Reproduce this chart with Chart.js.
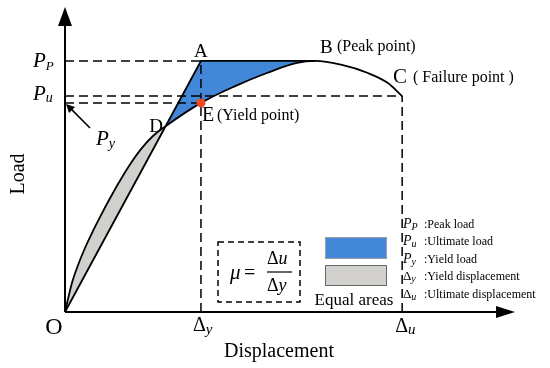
<!DOCTYPE html>
<html><head><meta charset="utf-8">
<script src="https://cdn.jsdelivr.net/npm/chart.js@4.4.0/dist/chart.umd.min.js"></script>
<style>html,body{margin:0;padding:0;background:#fff;}canvas{display:block;}</style>
</head><body><canvas id="c" width="550" height="368"></canvas>
<script>
// Load-displacement curve (schematic units: displacement, load)
const curveDisp = [0, 0.51, 0.96, 1.47, 2.06, 2.65, 3.24, 3.90, 4.71, 5.59, 6.47, 7.4, 10, 12.35, 14.85, 17.06, 18.4, 20.37, 22.28, 23.75, 24.8];
const curveLoad = [0, 11.55, 18.7, 25.5, 32.3, 38.6, 44.6, 51.0, 58.2, 64.9, 70.1, 74, 83.3, 89.6, 95.2, 99.2, 100, 98.4, 95.2, 91.2, 86];
const idxD = 11, idxE = 12, idxB = 16, idxC = 20;
const deltaY = 10, deltaU = 24.8;
const loadPeak = 100, loadUlt = 86, loadYield = 83.3;
const dispMax = 33.1, loadMax = 121.5;
const legendSymbols = ['P', 'P', 'P', 'Δ', 'Δ'];
const legendSubs = ['P', 'u', 'y', 'y', 'u'];
const legendTexts = [':Peak load', ':Ultimate load', ':Yield load', ':Yield displacement', ':Ultimate displacement'];

const BLUE = '#4287d8', GRAY = '#d2d0cc';
const SERIF = '"Liberation Serif", "Times New Roman", serif';

const pts = (xs, ys) => xs.map((x, i) => ({x, y: ys[i]}));
const curve = pts(curveDisp, curveLoad);
const secant = [{x: 0, y: 0}, {x: deltaY, y: loadPeak}, {x: curveDisp[idxB], y: loadPeak}];
const dashed = (data) => ({data, borderColor: '#000', borderWidth: 1.5, borderDash: [9, 5], pointRadius: 0, fill: false, tension: 0, order: 3});

const datasets = [
  {data: curve, borderColor: '#000', borderWidth: 1.8, pointRadius: 0, fill: false, cubicInterpolationMode: 'monotone', order: 0},
  {data: secant, borderColor: '#000', borderWidth: 1.8, pointRadius: 0, fill: false, tension: 0, order: 1},
  {data: pts(curveDisp.slice(0, idxB + 1), curveLoad.slice(0, idxB + 1)), borderColor: 'rgba(0,0,0,0)', borderWidth: 0, pointRadius: 0,
   cubicInterpolationMode: 'monotone', fill: {target: 1, above: GRAY, below: BLUE}, backgroundColor: BLUE, order: 6},
  dashed([{x: 0, y: loadPeak}, {x: deltaY, y: loadPeak}]),
  dashed([{x: 0, y: loadUlt}, {x: deltaU, y: loadUlt}]),
  dashed([{x: 0, y: loadYield}, {x: deltaY, y: loadYield}]),
  dashed([{x: deltaY, y: 0}, {x: deltaY, y: loadPeak}]),
  dashed([{x: deltaU, y: 0}, {x: deltaU, y: loadUlt}]),
  {data: [{x: curveDisp[idxE], y: curveLoad[idxE]}], showLine: false, pointRadius: 4.5, pointBackgroundColor: '#ef4a22', pointBorderWidth: 0, order: -1}
];

const annot = {
  id: 'annot',
  afterDraw(chart) {
    const {ctx, chartArea: a, scales: {x: X, y: Y}} = chart;
    const px = v => X.getPixelForValue(v), py = v => Y.getPixelForValue(v);
    const txt = (s, x, y, font, align = 'left') => { ctx.font = font; ctx.textAlign = align; ctx.textBaseline = 'alphabetic'; ctx.fillText(s, x, y); return ctx.measureText(s).width; };
    const sub = (m, s, x, y, mf, sf, dy) => { const w = txt(m, x, y, mf); txt(s, x + w, y + dy, sf); };
    ctx.save();
    ctx.strokeStyle = '#000'; ctx.fillStyle = '#000'; ctx.lineWidth = 2;
    const ox = px(0), oy = py(0);
    ctx.beginPath(); ctx.moveTo(ox, oy); ctx.lineTo(ox, a.top + 14); ctx.moveTo(ox, oy); ctx.lineTo(a.right - 14, oy); ctx.stroke();
    ctx.beginPath(); ctx.moveTo(ox, a.top); ctx.lineTo(ox - 7, a.top + 19); ctx.lineTo(ox + 7, a.top + 19); ctx.closePath(); ctx.fill();
    ctx.beginPath(); ctx.moveTo(a.right, oy); ctx.lineTo(a.right - 19, oy - 6); ctx.lineTo(a.right - 19, oy + 6); ctx.closePath(); ctx.fill();

    // P_y pointer arrow
    const tx = ox + 1, ty = py(loadYield) + 1;
    ctx.lineWidth = 1.6;
    ctx.beginPath(); ctx.moveTo(90, 128); ctx.lineTo(tx + 4, ty + 4); ctx.stroke();
    ctx.beginPath(); ctx.moveTo(tx, ty); ctx.lineTo(tx + 9, ty + 3); ctx.lineTo(tx + 3, ty + 9); ctx.closePath(); ctx.fill();

    const I = (s) => 'italic ' + s + 'px ' + SERIF, R = (s) => s + 'px ' + SERIF;
    // axis labels
    sub('P', 'P', 33, py(loadPeak) + 6, I(21), I(13), 3);
    sub('P', 'u', 33, py(loadUlt) + 4, I(21), I(14), 2);
    sub('P', 'y', 96, 145, I(21), I(14), 3);
    sub('Δ', 'y', px(deltaY) - 8, oy + 19, R(20), I(15), 3);
    sub('Δ', 'u', px(deltaU) - 7, oy + 20, R(20), I(15), 2);
    txt('O', ox - 11, oy + 22, R(24), 'center');
    txt('Displacement', 279, 357, R(20), 'center');
    ctx.save(); ctx.translate(19, 174); ctx.rotate(-Math.PI / 2); ctx.textBaseline = 'middle'; ctx.font = R(20); ctx.textAlign = 'center'; ctx.fillText('Load', 0, 0); ctx.restore();

    // point labels
    txt('A', px(deltaY), py(loadPeak) - 4, R(19), 'center');
    txt('B', 320, 53, R(19));
    txt('(Peak point)', 337, 51, R(16));
    txt('C', 393, 83, R(21));
    txt('( Failure point )', 413, 82, R(16));
    txt('D', 163, 132, R(19), 'right');
    txt('E', 202, 121, R(20));
    txt('(Yield point)', 217, 120, R(16));

    // formula box
    ctx.lineWidth = 1.5; ctx.setLineDash([6, 4]);
    ctx.strokeRect(218, 242, 82, 60);
    ctx.setLineDash([]);
    txt('μ', 230, 279, I(21));
    txt('=', 244, 279, R(20));
    ctx.lineWidth = 1.2; ctx.beginPath(); ctx.moveTo(267, 272); ctx.lineTo(292, 272); ctx.stroke();
    sub('Δ', 'u', 267, 264, R(18), I(18), 0);
    sub('Δ', 'y', 267, 291, R(18), I(18), 0);

    // equal areas swatches
    ctx.fillStyle = BLUE; ctx.fillRect(325, 237, 62, 22);
    ctx.strokeStyle = '#9aa3ad'; ctx.lineWidth = 1; ctx.strokeRect(325.5, 237.5, 61, 21);
    ctx.fillStyle = GRAY; ctx.fillRect(325, 265, 62, 21);
    ctx.strokeStyle = '#666'; ctx.strokeRect(325.5, 265.5, 61, 20);
    ctx.fillStyle = '#000';
    txt('Equal areas', 354, 305, R(17), 'center');

    // symbol legend
    legendTexts.forEach((t, i) => {
      const y = 228 + i * 17.4;
      const isP = legendSymbols[i] === 'P';
      sub(legendSymbols[i], legendSubs[i], 403, y, isP ? I(14) : R(13), I(10), 2);
      txt(t, 424, y, R(12));
    });
    ctx.restore();
  }
};

new Chart(document.getElementById('c'), {
  type: 'line',
  data: {datasets},
  options: {
    responsive: false, animation: false, events: [],
    layout: {padding: {left: 65, right: 35, top: 7, bottom: 56}},
    scales: {
      x: {type: 'linear', display: false, min: 0, max: dispMax},
      y: {type: 'linear', display: false, min: 0, max: loadMax}
    },
    plugins: {legend: {display: false}, tooltip: {enabled: false}},
    elements: {point: {radius: 0}}
  },
  plugins: [annot]
});
</script></body></html>
